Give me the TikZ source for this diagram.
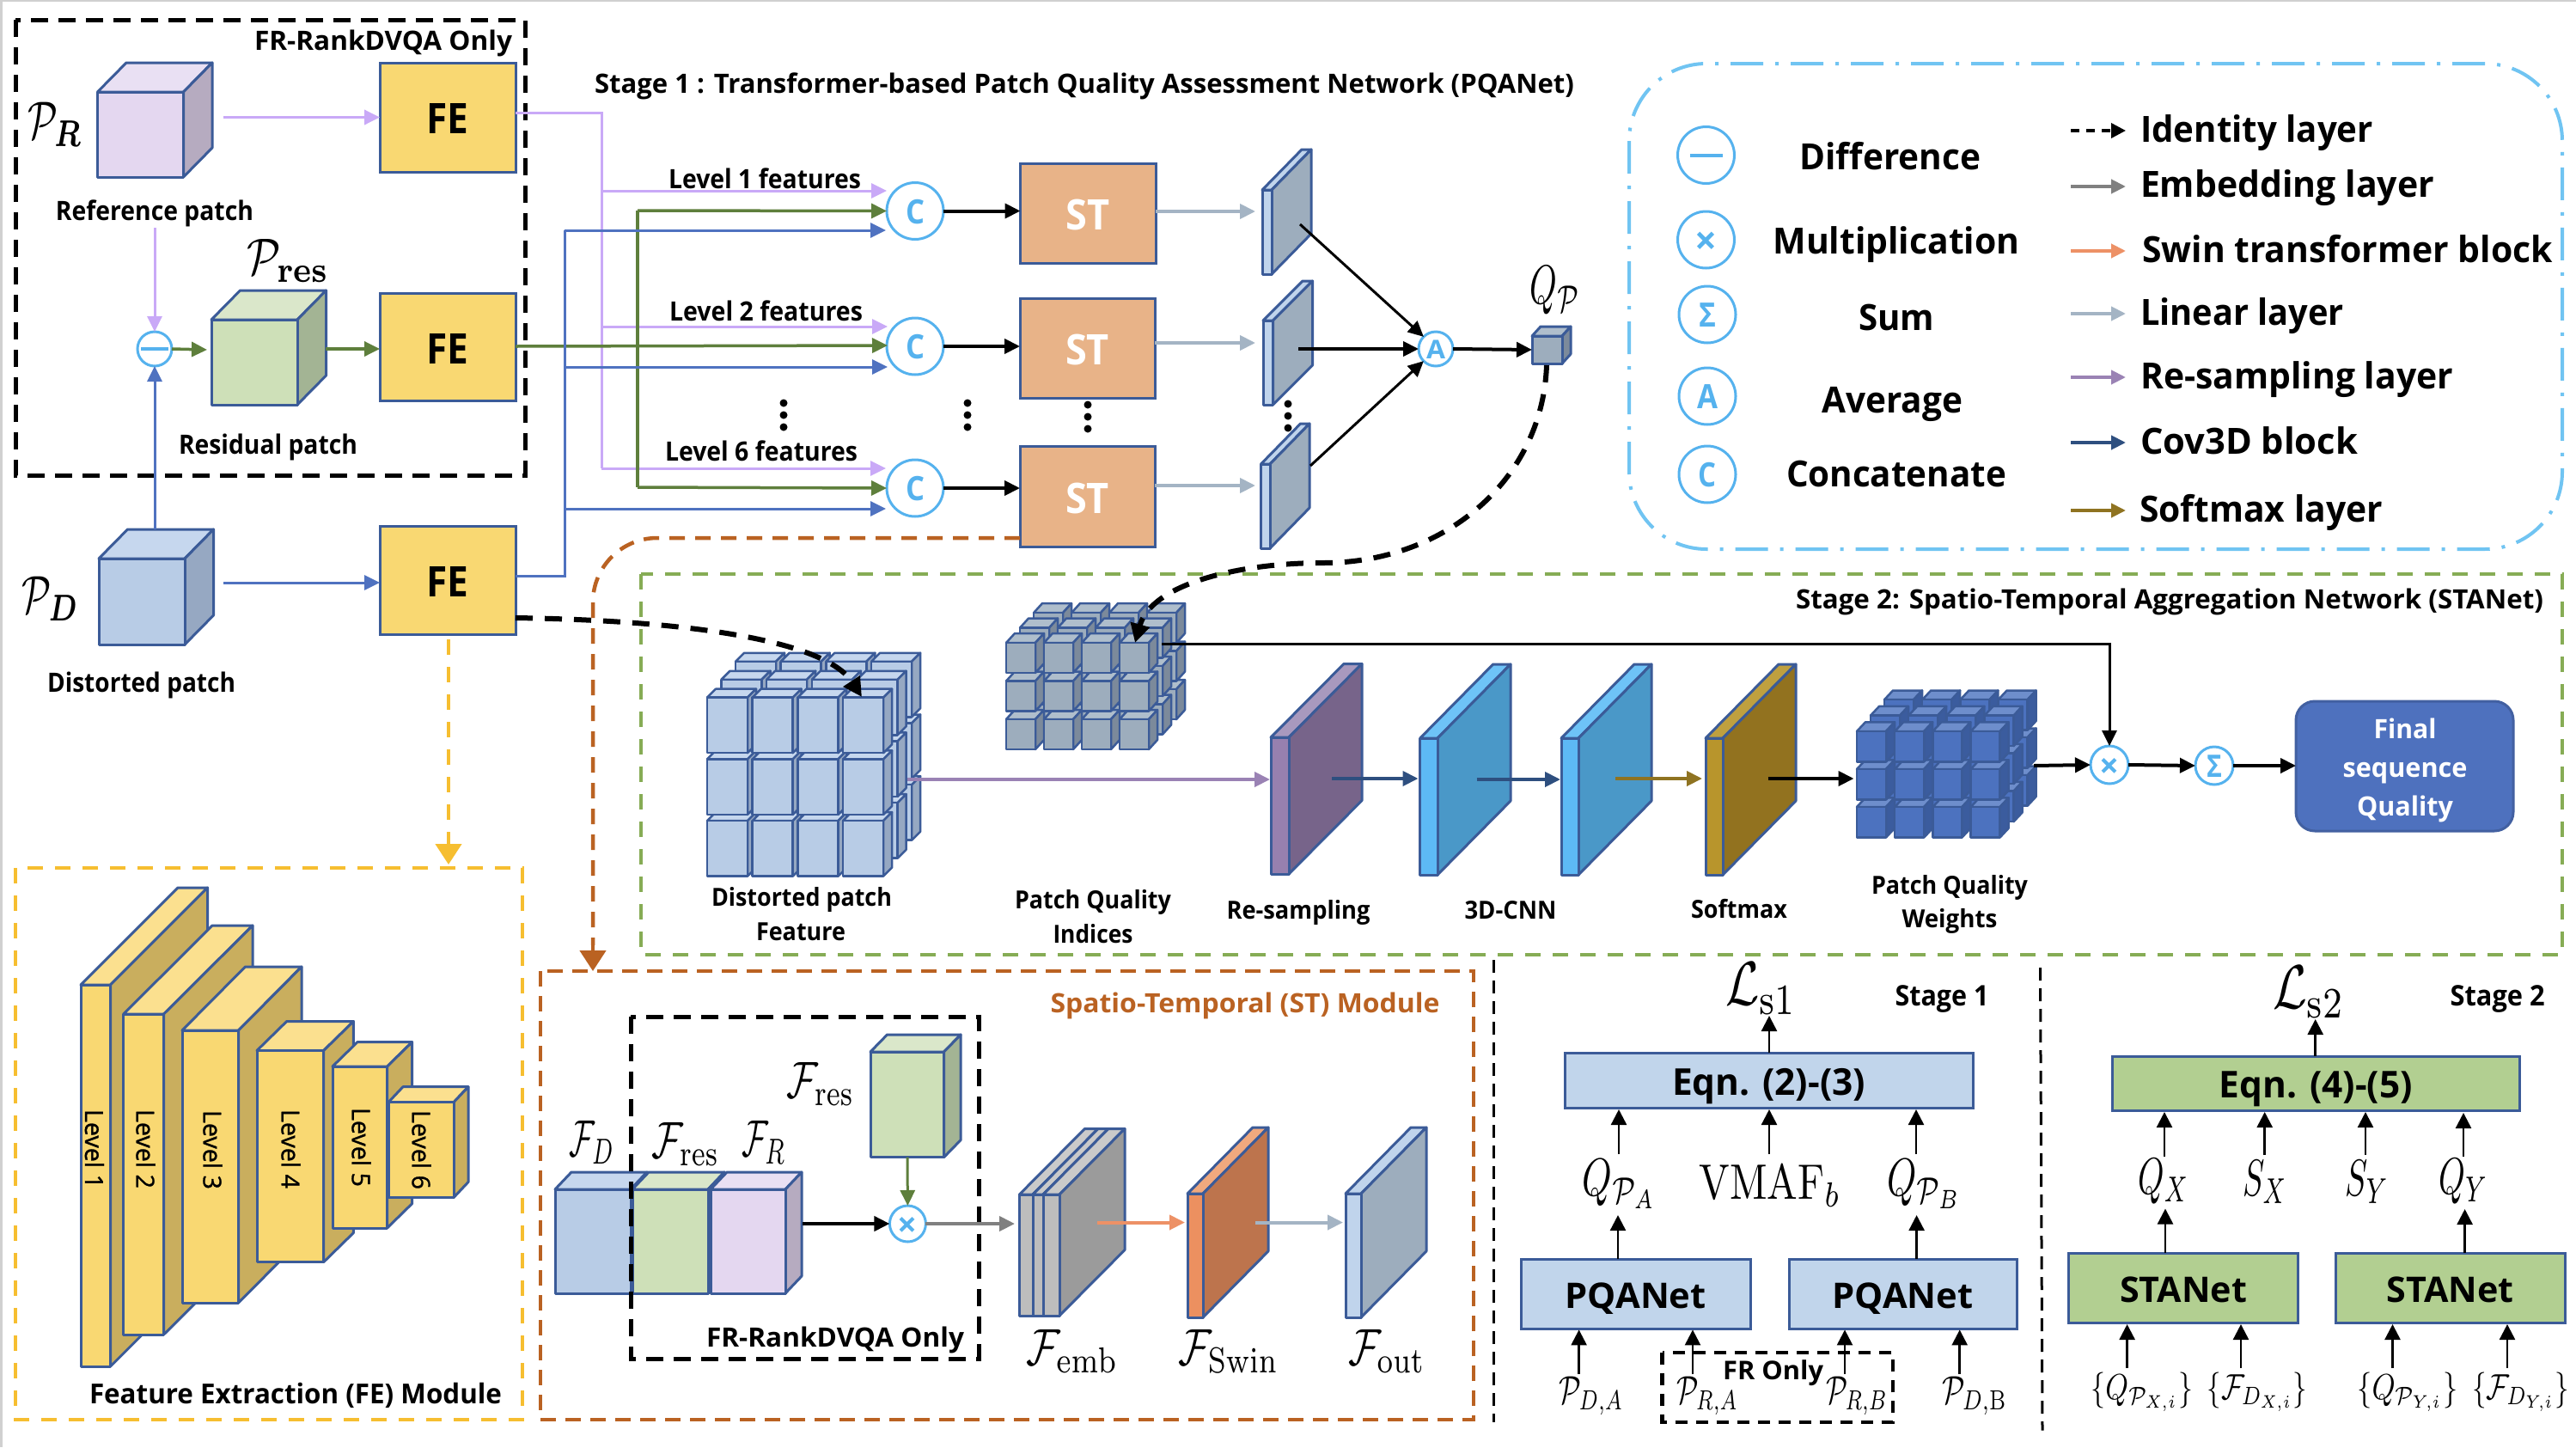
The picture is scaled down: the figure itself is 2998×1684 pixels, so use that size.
\documentclass[tikz,border=0pt]{standalone}
\usepackage{amsmath}
\usepackage{graphicx}
\usepackage[no-math]{fontspec}
\setmainfont{Open Sans}
\usetikzlibrary{arrows.meta,shapes.geometric}
\newsavebox\twb
\newlength\twl
\def\twup{0pt}
\newcommand{\tw}[3]{{\fontsize{#1}{#1}\selectfont\sbox\twb{#3}\setlength\twl{\wd\twb}\pgfmathsetmacro\twr{#2/\twl}\rule{0pt}{\dimexpr#1pt*714/1000+\twup\relax}\smash{\scalebox{\twr}[1]{\usebox\twb}}}}
\newcommand{\mw}[3]{{\fontsize{10}{10}\selectfont\sbox\twb{$#3$}\setlength\twl{\wd\twb}\pgfmathsetmacro\twr{#2/\twl}\pgfmathsetmacro\twy{#1/10}\scalebox{\twr}[\twy]{\usebox\twb}}}
\newcommand\T[7][]{\node[txt,#1] (#2) at (#3,#4) {\tw{#5}{#6}{#7}};}
\newcommand\M[6]{\node[mth] (#1) at (#2,#3) {\mw{#4}{#5}{#6}};}
\newcommand\Bx[7][]{\node[bx,#1,minimum width={#5-#3},minimum height={#6-#4}] (#2) at ({(#3+#5)/2},{(#4+#6)/2}) {\def\twup{4pt}#7};}
\newcommand\Cc[5]{\node[opc,minimum size={2*#4}] (#1) at (#2,#3) {\def\twup{2pt}#5};}
\newcommand\Cub[9]{%
 \filldraw[cubs,fill=#8] ({#1},{#2}) -- ({#1+#5},{#2-#6}) -- ({#3+#5},{#2-#6}) -- ({#3},{#2}) -- cycle;
 \filldraw[cubs,fill=#9] ({#3},{#2}) -- ({#3+#5},{#2-#6}) -- ({#3+#5},{#4-#6}) -- ({#3},{#4}) -- cycle;
 \filldraw[cubs,fill=#7] ({#1},{#2}) rectangle ({#3},{#4});}
\newcommand\Grid[9]{%
 \foreach \gl in {2,1,0}{\foreach \gc in {0,1,2,3}{\foreach \gr in {2,1,0}{%
  \pgfmathsetmacro\xa{#1+\gc*#5+\gl*#9}\pgfmathsetmacro\ya{#2+\gr*#6-\gl*#9*\gK}%
  \pgfmathsetmacro\xb{\xa+#3}\pgfmathsetmacro\yb{\ya+#4}%
  \Cub{\xa}{\ya}{\xb}{\yb}{#7}{#8}{\gF}{\gT}{\gS}}}}}
\definecolor{bs}{HTML}{3B5B98}
\definecolor{feF}{HTML}{F9D872}\definecolor{feT}{HTML}{FBE08F}\definecolor{feS}{HTML}{C9AE5E}
\definecolor{stF}{HTML}{E8B388}
\definecolor{pF}{HTML}{E4D7F0}\definecolor{pT}{HTML}{E9E0F3}\definecolor{pS}{HTML}{B6ABC0}
\definecolor{gF}{HTML}{CEE0B8}\definecolor{gT}{HTML}{DAE7CA}\definecolor{gS}{HTML}{A3B494}
\definecolor{bF}{HTML}{B8CCE6}\definecolor{bT}{HTML}{C6D7EE}\definecolor{bS}{HTML}{96A8C2}
\definecolor{sF}{HTML}{9DADBD}\definecolor{sT}{HTML}{AFBECC}\definecolor{sS}{HTML}{7C8A9B}
\definecolor{lF}{HTML}{C0D4EC}
\definecolor{rF}{HTML}{9780AF}\definecolor{rT}{HTML}{A899BE}\definecolor{rS}{HTML}{77648A}
\definecolor{cF}{HTML}{5DB9F5}\definecolor{cT}{HTML}{6EC3F7}\definecolor{cS}{HTML}{4A98C8}
\definecolor{mF}{HTML}{B8952C}\definecolor{mT}{HTML}{BFA03F}\definecolor{mS}{HTML}{92721F}
\definecolor{wF}{HTML}{4C72BF}\definecolor{wT}{HTML}{6E8ECC}\definecolor{wS}{HTML}{3B5C9E}
\definecolor{eF}{HTML}{BDBDBD}\definecolor{eT}{HTML}{CACACA}\definecolor{eS}{HTML}{9B9B9B}
\definecolor{oF}{HTML}{EC9060}\definecolor{oT}{HTML}{F0A97E}\definecolor{oS}{HTML}{BD744D}
\definecolor{opb}{HTML}{55B2EE}
\definecolor{lpur}{HTML}{C9A9F7}\definecolor{lgrn}{HTML}{5E7F3C}\definecolor{lblu}{HTML}{4F72C0}
\definecolor{lgry}{HTML}{A4B4C4}\definecolor{lemb}{HTML}{808080}\definecolor{lswn}{HTML}{ED9166}
\definecolor{lres}{HTML}{9A82B4}\definecolor{lcov}{HTML}{2E4F7F}\definecolor{lsft}{HTML}{8F7321}
\definecolor{dgrn}{HTML}{86AC55}\definecolor{dyel}{HTML}{F6BE30}\definecolor{dbrn}{HTML}{BA6222}\definecolor{dleg}{HTML}{70C4F2}
\definecolor{eqb}{HTML}{C1D5EB}\definecolor{eqg}{HTML}{B2CF91}\definecolor{fin}{HTML}{4E71BE}
\definecolor{edge}{HTML}{D0D0D0}
\tikzset{
 txt/.style={inner sep=0pt,outer sep=0pt,font=\bfseries},
 mth/.style={inner sep=0pt,outer sep=0pt},
 bx/.style={draw=bs,line width=3pt,inner sep=0pt,outer sep=0pt,font=\bfseries},
 opc/.style={circle,draw=opb,line width=3pt,fill=white,inner sep=0pt,outer sep=0pt,text=opb,font=\bfseries},
 cubs/.style={draw=bs,line width=3pt,line join=round},
 arr/.style={-{Triangle[length=18pt,width=17pt]}},
 sarr/.style={-{Triangle[length=18pt,width=18pt]}},
 thin1/.style={line width=2.5pt,black,sarr},
 blk/.style={line width=4pt,black,arr},
 lp/.style={line width=3pt,lpur},
 lg/.style={line width=3.5pt,lgrn},
 lb/.style={line width=3pt,lblu},
 gy/.style={line width=4pt,lgry,arr},
 dashblack/.style={line width=5pt,black,dash pattern=on 20pt off 12pt},
 dashthin/.style={line width=3pt,black,dash pattern=on 15pt off 9pt},
 flow/.style={line width=6pt,black,dash pattern=on 20pt off 14pt,-{Triangle[length=22pt,width=22pt]}},
 leg/.style={line width=4pt,-{Triangle[length=17pt,width=16pt]}},
}
\begin{document}
\begin{tikzpicture}[x=1pt,y=-1pt]
\useasboundingbox (0,0) rectangle (2998,1684);
\fill[white] (0,0) rectangle (2998,1684);
\fill[edge] (0,0) rectangle (2998,1.5);
\fill[edge] (0,0) rectangle (3,1684);

% ---------- dashed containers
\draw[dashblack] (18,23) rectangle (611,553);
\draw[line width=4pt,dgrn,dash pattern=on 18pt off 14pt] (746,668) rectangle (2982,1111);
\draw[line width=4pt,dleg,dash pattern=on 38pt off 14pt on 4pt off 14pt,rounded corners=90pt] (1896,74) rectangle (2982,639);
\draw[line width=4pt,dyel,dash pattern=on 18pt off 14pt] (18,1010) rectangle (608,1652);
\draw[line width=4pt,dbrn,dash pattern=on 18pt off 11pt] (629,1130) rectangle (1715,1652);

% ---------- input cubes
\Cub{113.5}{107}{213.5}{206}{33.5}{34}{pF}{pT}{pS}
\Cub{246}{372}{346}{471}{33.5}{34}{gF}{gT}{gS}
\Cub{115}{650}{215}{750}{33.5}{34}{bF}{bT}{bS}
\coordinate (prO) at (260,136.5);
\coordinate (prB) at (180,265);
\coordinate (resL) at (241,407);
\coordinate (resR) at (379,406);
\coordinate (pdT) at (180,616);
\coordinate (pdO) at (260,678);

\T{tfr}{446}{47}{31}{300}{FR-RankDVQA Only}
\T{tref}{180}{245}{31}{230}{Reference patch}
\T{tres}{312}{517}{31}{208}{Residual patch}
\T{tdis}{164.5}{794}{31}{219}{Distorted patch}
\M{lpr}{64}{145}{62}{64}{\mathcal{P}_{\boldsymbol{R}}}
\M{lpres}{335}{303}{60}{96}{\mathcal{P}_{\mathbf{res}}}
\M{lpd}{59}{697}{62}{66}{\mathcal{P}_{\boldsymbol{D}}}

% ---------- FE boxes
\Bx[fill=feF]{fea}{442}{73}{600}{200}{\tw{49}{49}{FE}}
\Bx[fill=feF]{feb}{442}{341}{600}{466.5}{\tw{49}{49}{FE}}
\Bx[fill=feF]{fec}{442}{612}{600}{738}{\tw{49}{49}{FE}}

\Cc{dif}{180}{406}{20}{}
\draw[line width=3.5pt,opb] ([xshift=4pt]dif.west) -- ([xshift=-4pt]dif.east);

\draw[line width=3.5pt,lpur,arr] (prO) -- (prO -| fea.west);
\draw[line width=3pt,lpur,arr] (prB) -- (dif.north);
\draw[line width=3pt,lblu,arr] (pdT) -- (dif.south);
\draw[line width=3.5pt,lgrn,arr] (dif.east) -- (resL);
\draw[line width=3.5pt,lgrn,arr] (resR) -- (resR -| feb.west);
\draw[line width=3pt,lblu,arr] (pdO) -- (pdO -| fec.west);

% ---------- stage 1
\T{tst1}{1262}{97.5}{31}{1140}{Stage 1 : Transformer-based Patch Quality Assessment Network (PQANet)}
\T{tl1}{890}{208}{31}{224}{Level 1 features}
\T{tl2}{891.5}{362}{31}{225}{Level 2 features}
\T{tl6}{886}{525}{31}{224}{Level 6 features}

\Cc{ca}{1065}{245.5}{33}{\tw{39}{22}{C}}
\Cc{cb}{1065}{403}{33}{\tw{39}{22}{C}}
\Cc{cc}{1065}{568}{33}{\tw{39}{22}{C}}
\Bx[fill=stF,text=white]{sta}{1187.5}{190}{1345}{306}{\tw{49}{51}{ST}}
\Bx[fill=stF,text=white]{stb}{1187}{347}{1344}{463}{\tw{49}{51}{ST}}
\Bx[fill=stF,text=white]{stc}{1187}{519.5}{1344}{636}{\tw{49}{51}{ST}}

% feature routing
\coordinate (fap) at (600,131);
\coordinate (fbg) at (600,403);
\coordinate (fcb) at (600,670);
\draw[lp] (fap) -- (700,131) -- (700,545);
\draw[lp,arr] (700,222) -- (1032,222);
\draw[lp,arr] (700,380) -- (1033,380);
\draw[lp,arr] (700,545) -- (1031,545);
\draw[lg,arr] (fbg) -- (1033,402);
\draw[lg] (742,245) -- (742,567);
\draw[lg,arr] (742,245) -- (ca.west);
\draw[lg,arr] (742,567) -- (cc.west);
\draw[lb] (fcb) -- (657,670) -- (657,268);
\draw[lb,arr] (657,268) -- (1031,268);
\draw[lb,arr] (657,427) -- (1033,427);
\draw[lb,arr] (657,592) -- (1031,592);

\draw[blk] (ca.east) -- (ca.east -| sta.west);
\draw[blk] (cb.east) -- (cb.east -| stb.west);
\draw[blk] (cc.east) -- (cc.east -| stc.west);

\Cub{1469}{221}{1480}{319}{46}{47}{lF}{lF}{sF}
\Cub{1470}{373}{1481.5}{471}{46}{46}{lF}{lF}{sF}
\Cub{1467.5}{540}{1478}{638}{46}{47}{lF}{lF}{sF}
\coordinate (pa) at (1461,246);
\coordinate (pb) at (1461,399);
\coordinate (pc) at (1461,565);
\draw[gy] (sta.east |- pa) -- (pa);
\draw[gy] (stb.east |- pb) -- (pb);
\draw[gy] (stc.east |- pc) -- (pc);

\foreach \dx/\dy in {912/469,1126/469,1266/471,1499/470}{
 \foreach \k in {0,1,2}{\fill[black] (\dx,{\dy+\k*14}) circle (4.5pt);}}

\Cc{avg}{1671}{406}{20}{\tw{30}{22}{A}}
\coordinate (pai) at (1513,261);
\coordinate (pbi) at (1511,406);
\coordinate (pci) at (1525,542);
\draw[line width=3pt,black,arr] (pai) -- (avg.north west);
\draw[line width=4pt,black,arr] (pbi) -- (avg.west);
\draw[line width=3pt,black,arr] (pci) -- (avg.south west);

\Cub{1783}{391}{1818}{423}{10}{11}{sF}{sT}{sS}
\coordinate (qin) at (1783,407);
\coordinate (qout) at (1800,425);
\draw[blk] (avg.east) -- (qin);
\M{lq}{1810}{338}{64}{59}{Q_{\mathcal{P}}}

% ---------- legend
\Cc{lga}{1985.5}{180.5}{33}{}
\draw[line width=4pt,opb] ([xshift=14pt]lga.west) -- ([xshift=-14pt]lga.east);
\Cc{lgb}{1985.5}{279}{33}{\tw{46}{26}{×}}
\Cc{lgc}{1987}{366}{33}{\tw{39}{20}{Σ}}
\Cc{lgd}{1987}{461}{33}{\tw{39}{24}{A}}
\Cc{lge}{1987}{552}{33}{\tw{39}{21}{C}}
\T{tdf}{2200}{183}{42}{211}{Difference}
\T{tml}{2207}{281}{42}{287}{Multiplication}
\T{tsm}{2207}{369.5}{42}{88}{Sum}
\T{tav}{2202}{465}{42}{164}{Average}
\T{tcn}{2207}{551}{42}{256}{Concatenate}
\foreach \nm/\yy/\cl in {e/217/lemb,f/292/lswn,g/365/lgry,h/439/lres,i/515/lcov,j/594/lsft}{
 \coordinate (a\nm) at (2410,\yy); \coordinate (b\nm) at (2474,\yy);
 \draw[leg,\cl] (a\nm) -- (b\nm);}
\coordinate (ad) at (2410,152); \coordinate (bd) at (2474,152);
\draw[line width=3.5pt,black,dash pattern=on 10pt off 8pt,-{Triangle[length=17pt,width=17pt]}] (ad) -- (bd);
\T[anchor=west]{tid}{2491}{151}{42}{271}{Identity layer}
\T[anchor=west]{tem}{2491}{215}{42}{342}{Embedding layer}
\T[anchor=west]{tsw}{2493}{291}{42}{478}{Swin transformer block}
\T[anchor=west]{tli}{2491}{363}{42}{237}{Linear layer}
\T[anchor=west]{tre}{2491}{437}{42}{364}{Re-sampling layer}
\T[anchor=west]{tco}{2491}{513}{42}{253}{Cov3D block}
\T[anchor=west]{tso}{2490}{592}{42}{283}{Softmax layer}

% ---------- stage 2
\T{tst2}{2525}{697}{31}{870}{Stage 2: Spatio-Temporal Aggregation Network (STANet)}
\tikzset{cubs/.append style={line width=2.5pt}}
\def\gF{bF}\def\gT{bT}\def\gS{bS}\def\gK{1.27}
\Grid{823}{811.7}{47}{64.5}{52.7}{71.7}{10}{10}{16.5}
\def\gF{sF}\def\gT{sT}\def\gS{sS}\def\gK{1.09}
\Grid{1171}{748}{34}{35}{44}{44.5}{10}{11}{16}
\def\gF{wF}\def\gT{wT}\def\gS{wS}\def\gK{1.15}
\Grid{2161}{851}{34}{35.5}{44.2}{44}{10}{10.7}{16}
\tikzset{cubs/.append style={line width=3pt}}
\Cub{1479}{858}{1500}{1017}{85}{85.5}{rF}{rT}{rS}
\Cub{1652.7}{859}{1673}{1018}{85}{86}{cF}{cT}{cS}
\Cub{1817}{859}{1837}{1018}{85}{86}{cF}{cT}{cS}
\Cub{1985}{859}{2005}{1018}{85}{86}{mF}{mT}{mS}

\coordinate (dfO) at (1056,907); \coordinate (rsI) at (1478,907);
\draw[line width=4pt,lres,arr] (dfO) -- (rsI);
\coordinate (rsO) at (1550,906); \coordinate (c1I) at (1650.5,906);
\draw[line width=4pt,lcov,arr] (rsO) -- (c1I);
\coordinate (c1O) at (1718.6,907); \coordinate (c2I) at (1816,907);
\draw[line width=4pt,lcov,arr] (c1O) -- (c2I);
\coordinate (c2O) at (1880,906); \coordinate (smI) at (1981,906);
\draw[line width=4pt,lsft,arr] (c2O) -- (smI);
\coordinate (smO) at (2057.5,906); \coordinate (wtI) at (2157.5,906);
\draw[blk] (smO) -- (wtI);

\Cc{mul}{2455}{890}{22}{\tw{40}{23}{×}}
\Cc{sum}{2577}{891}{22}{\tw{36}{18}{Σ}}
\Bx[fill=fin,rounded corners=22pt,draw=fin!85!black,text=white,align=center]{fnl}{2672}{816}{2925}{967}{}
\T[text=white]{tf1}{2799}{848}{31}{73}{Final}
\T[text=white]{tf2}{2799}{893}{31}{145}{sequence}
\T[text=white]{tf3}{2799}{938}{31}{112}{Quality}
\coordinate (wtO) at (2367,891);
\coordinate (sq) at (1352,749);
\draw[blk] (wtO) -- (mul.west);
\draw[blk] (mul.east) -- (sum.west);
\draw[blk] (sum.east) -- (sum.east -| fnl.west);
\draw[line width=3pt,black,arr] (sq) -| (mul.north);

\T{td1}{933}{1044}{29}{210}{Distorted patch}
\T{td2}{932}{1084}{29}{104}{Feature}
\T{ti1}{1272}{1047}{29}{182}{Patch Quality}
\T{ti2}{1272}{1087}{29}{93}{Indices}
\T{trs}{1511}{1059}{29}{167}{Re-sampling}
\T{tcnn}{1758}{1059}{29}{107}{3D-CNN}
\T{tsfx}{2024}{1058}{29}{112}{Softmax}
\T{tw1}{2269}{1030}{29}{182}{Patch Quality}
\T{tw2}{2269}{1069}{29}{111}{Weights}

% long dashed flows
\coordinate (feD) at (600,719);
\coordinate (dcube) at (1003,811);
\draw[flow] (feD) .. controls (800,722) and (960,745) .. (dcube);
\coordinate (icube) at (1321,748);
\coordinate (mid) at (1540,655);
\draw[flow] (qout) .. controls (1795,560) and (1680,655) .. (mid) .. controls (1440,655) and (1340,680) .. (icube);
\coordinate (stbr) at (1187,626); \coordinate (stm) at (690,1130);
\draw[line width=4.5pt,dbrn,dash pattern=on 18pt off 12pt,rounded corners=75pt] (stbr) -| (690,1100);
\draw[line width=4.5pt,dbrn,dash pattern=on 18pt off 12pt,-{Triangle[length=24pt,width=30pt]}] (690,1095) -- (stm);
\coordinate (feY) at (522,744); \coordinate (yIn) at (522,1006);
\draw[line width=4.5pt,dyel,dash pattern=on 18pt off 14pt,-{Triangle[length=24pt,width=30pt]}] (feY) -- (yIn);

% ---------- FE module
\Cub{94}{1146}{128.6}{1590}{113}{113}{feF}{feT}{feS}
\Cub{143.7}{1180}{190.6}{1553}{103.4}{103}{feF}{feT}{feS}
\Cub{212}{1199}{277.6}{1516}{73.4}{74}{feF}{feT}{feS}
\Cub{299}{1222.5}{376.7}{1468.6}{34.7}{34}{feF}{feT}{feS}
\Cub{387}{1241}{450.6}{1429}{29}{28.4}{feF}{feT}{feS}
\Cub{452}{1282.7}{528}{1393.5}{17}{18}{feF}{feT}{feS}
\T[rotate=-90,font=\mdseries\addfontfeature{FakeBold=1}]{lv1}{109.4}{1337}{29}{92}{Level 1}
\T[rotate=-90,font=\mdseries\addfontfeature{FakeBold=1}]{lv2}{169}{1337}{29}{92}{Level 2}
\T[rotate=-90,font=\mdseries\addfontfeature{FakeBold=1}]{lv3}{247}{1338}{29}{92}{Level 3}
\T[rotate=-90,font=\mdseries\addfontfeature{FakeBold=1}]{lv4}{338}{1337}{29}{92}{Level 4}
\T[rotate=-90,font=\mdseries\addfontfeature{FakeBold=1}]{lv5}{420}{1335}{29}{92}{Level 5}
\T[rotate=-90,font=\mdseries\addfontfeature{FakeBold=1}]{lv6}{490}{1338}{29}{92}{Level 6}
\T{tfe}{344}{1622.5}{32}{480}{Feature Extraction (FE) Module}

% ---------- ST module
\T[text=dbrn]{tstm}{1449}{1167}{31}{453}{Spatio-Temporal (ST) Module}
\Cub{646}{1384}{734}{1505}{19}{20}{bF}{bT}{bS}
\Cub{736}{1384}{824}{1505}{19}{20}{gF}{gT}{gS}
\Cub{827}{1384}{914}{1505}{19}{20}{pF}{pT}{pS}
\draw[dashblack] (734,1183) rectangle (1139,1581);
\T{tfr2}{972}{1556}{31}{300}{FR-RankDVQA Only}
\Cub{1013}{1224}{1098.6}{1346.6}{19.5}{20}{gF}{gT}{gS}
\Cc{mst}{1056.4}{1424}{21}{\tw{40}{23}{×}}
\coordinate (frO) at (934,1424);
\coordinate (fgO) at (1056,1346.6);
\coordinate (embI) at (1181,1424);
\draw[blk] (frO) -- (mst.west);
\draw[line width=3pt,lgrn,arr] (fgO) -- (mst.north);
\draw[line width=4pt,lemb,arr] (mst.east) -- (embI);
\M{lfd}{689}{1329}{60}{53}{\mathcal{F}_{D}}
\M{lfr1}{798}{1331}{60}{79}{\mathcal{F}_{\mathrm{res}}}
\M{lfr}{889}{1329}{60}{52}{\mathcal{F}_{R}}
\M{lfr2}{955}{1261}{60}{79}{\mathcal{F}_{\mathrm{res}}}

\Cub{1186.4}{1390}{1202}{1531}{76}{76.5}{eF}{eT}{eS}
\Cub{1202}{1390}{1214}{1531}{76}{76.5}{eF}{eT}{eS}
\Cub{1214}{1390}{1233}{1531}{76}{76.5}{eF}{eT}{eS}
\Cub{1382}{1389}{1400}{1533}{76}{77}{oF}{oT}{oS}
\Cub{1566}{1389}{1584}{1533}{76}{77}{lF}{lF}{sF}
\coordinate (emO) at (1277,1422.5); \coordinate (swI) at (1379,1422.5);
\coordinate (swO) at (1461,1422.5); \coordinate (ouI) at (1563,1422.5);
\draw[line width=4pt,lswn,arr] (emO) -- (swI);
\draw[gy] (swO) -- (ouI);
\M{lfe}{1248}{1572}{60}{107}{\mathcal{F}_{\mathrm{emb}}}
\M{lfs}{1430}{1572}{60}{117}{\mathcal{F}_{\mathrm{Swin}}}
\M{lfo}{1614}{1572}{60}{90}{\mathcal{F}_{\mathrm{out}}}

% ---------- training panels
\draw[dashthin] (1738,1117) -- (1738,1655);
\draw[dashthin] (2374.5,1126) -- (2377,1664.5);
\Bx[fill=eqb]{eqa}{1821}{1225}{2296}{1289}{\tw{43}{225}{Eqn. (2)-(3)}}
\Bx[fill=eqg]{eqc}{2458}{1229}{2932.5}{1292}{\tw{43}{225}{Eqn. (4)-(5)}}
\Bx[fill=eqb]{pqa}{1770.4}{1465}{2037}{1546}{\tw{41}{164}{PQANet}}
\Bx[fill=eqb]{pqb}{2082}{1465}{2347}{1546}{\tw{41}{164}{PQANet}}
\Bx[fill=eqg]{saa}{2407.7}{1458.5}{2674.5}{1539}{\tw{41}{148}{STANet}}
\Bx[fill=eqg]{sab}{2718}{1458.5}{2985}{1539}{\tw{41}{148}{STANet}}
\M{ls1}{2050}{1150}{72}{83}{\mathcal{L}_{\mathrm{s}1}}
\M{ls2}{2687}{1154}{72}{84}{\mathcal{L}_{\mathrm{s}2}}
\T{tsa}{2260}{1159}{33}{109}{Stage 1}
\T{tsb}{2906.6}{1159}{33}{110}{Stage 2}
\M{qa}{1885}{1378}{62}{87}{Q_{\mathcal{P}_A}}
\M{vm}{2060}{1380}{58}{165}{\mathrm{VMAF}_b}
\M{qb}{2240}{1378}{62}{87}{Q_{\mathcal{P}_B}}
\M{qx}{2518}{1375}{60}{60}{Q_X}
\M{sx}{2636}{1375}{60}{52}{S_X}
\M{sy}{2755}{1375}{60}{51}{S_Y}
\M{qy}{2867}{1375}{60}{58}{Q_Y}

\coordinate (ls1b) at (2059,1182);
\coordinate (ls2b) at (2694.7,1186);
\draw[thin1] (ls1b |- eqa.north) -- (ls1b);
\draw[thin1] (ls2b |- eqc.north) -- (ls2b);
\foreach \nn/\xx/\ya/\yb in {a/1884/1343/1291,b/2059/1343/1291,c/2230/1343/1291,d/2519/1346/1294,e/2635.7/1344/1294,f/2753/1344/1294,g/2867/1346/1295,h/1883/1465/1414,i/2230.6/1465/1414,j/2520/1458/1406.5,k/2868.6/1458/1407,l/1837.6/1599/1547.4,m/1970/1599/1547.4,n/2147/1599/1547.4,o/2280.7/1599/1547.4,p/2475.6/1592/1541,q/2608/1592/1541,r/2784.5/1592/1541,s/2918/1592/1541}{
 \coordinate (u\nn) at (\xx,\ya); \coordinate (v\nn) at (\xx,\yb);
 \draw[thin1] (u\nn) -- (v\nn);}

\draw[line width=4.5pt,black,dash pattern=on 14pt off 10pt] (1934.6,1574) rectangle (2203,1655);
\T{tfro}{2063.6}{1595}{30}{117}{FR Only}
\M{pda}{1852}{1624}{46}{75}{\mathcal{P}_{D,A}}
\M{pra}{1987}{1624}{46}{72}{\mathcal{P}_{R,A}}
\M{prb}{2161}{1624}{46}{72}{\mathcal{P}_{R,B}}
\M{pdb}{2298}{1624}{46}{76}{\mathcal{P}_{D,\mathrm{B}}}
\M{sqx}{2493}{1620}{42}{119}{\{Q_{\mathcal{P}_{X,i}}\}}
\M{sfx}{2627}{1620}{42}{117}{\{\mathcal{F}_{D_{X,i}}\}}
\M{sqy}{2802}{1620}{42}{117}{\{Q_{\mathcal{P}_{Y,i}}\}}
\M{sfy}{2933.6}{1620}{42}{113}{\{\mathcal{F}_{D_{Y,i}}\}}
\end{tikzpicture}
\end{document}
